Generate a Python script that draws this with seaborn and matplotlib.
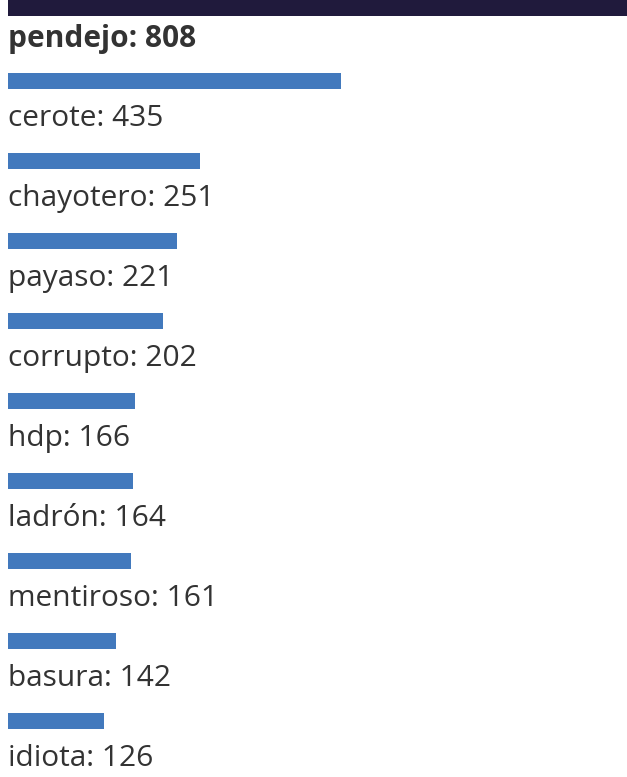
import numpy as np
import pandas as pd
import matplotlib
matplotlib.use("Agg")
import matplotlib.pyplot as plt
import seaborn as sns

# word counts
words = ["pendejo", "cerote", "chayotero", "payaso", "corrupto",
         "hdp", "ladrón", "mentiroso", "basura", "idiota"]
counts = [808, 435, 251, 221, 202, 166, 164, 161, 142, 126]
highlight = [True, False, False, False, False, False, False, False, False, False]

W, H = 627, 777
sns.set_style("white")
plt.rcParams['font.family'] = ['Open Sans', 'DejaVu Sans']

# layout in pixels: rows 80px apart, 16px bars, label under the bar
pitch = 80
bar_h = 16
rows = np.arange(len(words))
bar_y = 1.0 + pitch * rows
bar_y[0] = bar_h / 2  # highlighted bar sits flush with the top
label_y = 38.5 + pitch * rows

df = pd.DataFrame({"word": words, "count": counts, "y": bar_y,
                   "hl": ["hi" if h else "lo" for h in highlight]})

fig = plt.figure(figsize=(W / 100, H / 100), dpi=100)
ax = fig.add_axes([0, 0, 1, 1])

min_gap = np.min(np.diff(np.sort(bar_y)))
sns.barplot(data=df, x="count", y="y", hue="hl", orient="h", native_scale=True,
            palette={"hi": "#201a3c", "lo": "#4279bd"}, dodge=False, saturation=1,
            width=bar_h / min_gap, legend=False, ax=ax, linewidth=0)

px = 620 / 808  # pixels per count
left = 7.5
ax.set_xlim(-left / px, (W - left) / px)
ax.set_ylim(H, 0)
ax.axis("off")

for w, c, ly, h in zip(words, counts, label_y, highlight):
    ax.text(0, ly, f"{w}: {c}", ha="left", va="center", fontsize=21.5,
            color="#333333", fontweight="bold" if h else "normal")

fig.savefig("out.png", dpi=100)
